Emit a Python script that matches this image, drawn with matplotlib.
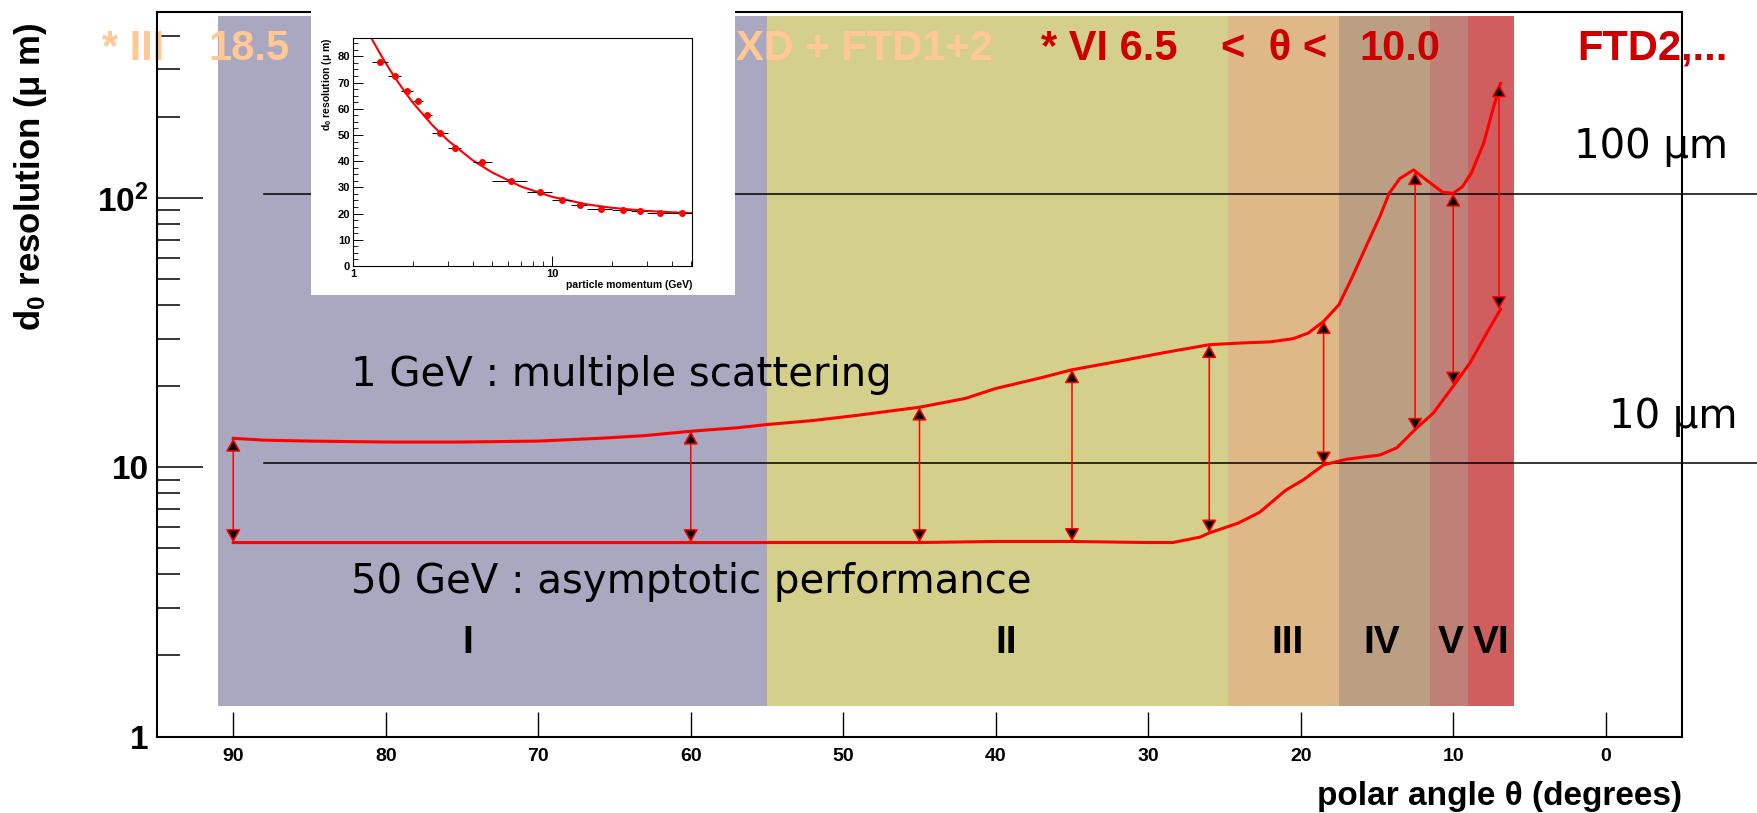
import numpy as np
import matplotlib
matplotlib.use("Agg")
import matplotlib.pyplot as plt
from matplotlib.ticker import FixedLocator, LogLocator, NullFormatter, MultipleLocator

plt.rcParams['font.family'] = ['Liberation Sans', 'DejaVu Sans']
plt.rcParams['mathtext.fontset'] = 'custom'
plt.rcParams['mathtext.rm'] = 'Liberation Sans'
plt.rcParams['mathtext.bf'] = 'Liberation Sans:bold'
plt.rcParams['mathtext.it'] = 'Liberation Sans:italic'

# ---- data ----
band_edges = [91.0, 55.0, 24.8, 17.5, 11.5, 9.0, 6.0]
band_colors = ['#aaa7c0', '#d4cf8a', '#dfb887', '#bc9e82', '#c08078', '#d05e5e']
band_names = ['I', 'II', 'III', 'IV', 'V', 'VI']
band_label_theta = [74.6, 39.3, 20.9, 14.7, 10.2, 7.5]

# 1 GeV (multiple scattering) curve
theta_1gev = [90, 88, 85, 80, 75, 70, 66, 63, 60, 57, 55, 52, 49, 45, 42, 40, 37, 35, 32, 29,
              26, 24, 22, 20.5, 19.5, 18.5, 17.5, 16.7, 15.7, 14.8, 14.2, 13.5, 12.6, 11.8,
              10.7, 10.0, 9.4, 8.8, 8.0, 7.4, 6.9]
d0_1gev = [12.8, 12.6, 12.5, 12.4, 12.4, 12.5, 12.8, 13.1, 13.6, 14.0, 14.4, 14.9, 15.6, 16.7,
           18.0, 19.6, 21.5, 23.0, 24.7, 26.6, 28.5, 28.9, 29.2, 30.0, 31.5, 34.8, 40.1, 49.7,
           66.3, 85.6, 104, 118, 127, 117, 105, 104, 110, 124, 160, 213, 266]

# 50 GeV (asymptotic) curve
theta_50gev = [90, 75, 60, 45, 40, 35, 30, 28.4, 26.6, 26, 24.1, 22.7, 21.0, 19.8, 18.5, 17.0,
               14.8, 13.7, 12.5, 11.3, 10.0, 8.9, 7.8, 6.9]
d0_50gev = [5.25, 5.25, 5.25, 5.25, 5.3, 5.3, 5.25, 5.25, 5.5, 5.7, 6.2, 6.8, 8.2, 9.0, 10.2,
            10.7, 11.1, 11.8, 13.8, 15.9, 20.0, 24.4, 31.5, 38.6]

arrow_theta = [90, 60, 45, 35, 26, 18.5, 12.5, 10, 7]
arrow_hi = [12.8, 13.6, 16.7, 23.0, 28.5, 35.0, 125, 104, 265]
arrow_lo = [5.25, 5.25, 5.25, 5.3, 5.7, 10.2, 13.6, 20.2, 38.5]

ref_levels = [103, 10.4]
ref_labels = ['100 μm', '10 μm']
ref_label_theta = [2.05, -0.24]
ref_label_y = [141, 14.0]

ytick_vals = [1, 10, 100]
ytick_labels = ['1', '10', r'$\mathbf{10^{2}}$']
xtick_vals = [90, 80, 70, 60, 50, 40, 30, 20, 10, 0]

top_texts = ['* III', '18.5', 'XD + FTD1+2', '* VI 6.5', '<  θ <', '10.0', 'FTD2,...']
top_text_x = [102, 208, 736, 1041, 1221, 1359, 1577]
top_text_col = ['#ffc895', '#ffc895', '#ffc895', '#cc0000', '#cc0000', '#cc0000', '#cc0000']

# inset: d0 resolution vs momentum
inset_p = [1.37, 1.62, 1.87, 2.13, 2.36, 2.74, 3.24, 4.47, 6.2, 8.7, 11.2, 13.8, 17.6, 22.6,
           27.6, 35.0, 45.2]
inset_d0 = [77.7, 72.4, 66.7, 63.0, 57.7, 50.9, 45.0, 39.5, 32.6, 28.1, 25.1, 23.2, 21.8,
            21.2, 21.1, 20.4, 20.2]
inset_plo = [1.25, 1.5, 1.75, 2.0, 2.25, 2.5, 3.0, 4.0, 5.0, 7.5, 10, 12.5, 15, 20, 25, 30, 40]
inset_phi = [1.5, 1.75, 2.0, 2.25, 2.5, 3.0, 3.5, 5.0, 7.5, 10, 12.5, 15, 20, 25, 30, 40, 50]
fit_p = [1.25, 1.4, 1.6, 1.8, 2.0, 2.5, 3.0, 4.0, 5.0, 7.0, 10, 15, 20, 30, 40, 50]
fit_d0 = [86.3, 79.7, 72.6, 67.0, 62.3, 53.8, 47.9, 40.3, 35.7, 30.3, 26.4, 23.5, 22.2, 21.0,
          20.5, 20.2]

W, H = 1758, 813


def fx(x):
    return x / W


def fy(y):
    return 1 - y / H


fig = plt.figure(figsize=(W / 100, H / 100), dpi=100)
fig.patch.set_facecolor('white')
ax = fig.add_axes([fx(157), fy(736.5), (1682 - 157) / W, (736.5 - 12) / H])

# bands
for i, c in enumerate(band_colors):
    ax.fill_between([band_edges[i], band_edges[i + 1]], 1.3, 475, color=c, lw=0, zorder=1)
for th, nm in zip(band_label_theta, band_names):
    ax.text(th, 2.04, nm, ha='center', va='baseline', fontsize=28, fontweight='bold', zorder=2)

# reference lines at 100 and 10 um
for lvl, lab, lt, ly in zip(ref_levels, ref_labels, ref_label_theta, ref_label_y):
    ax.plot([88, -12], [lvl, lvl], color='black', lw=1.1, clip_on=False, zorder=3)
    ax.text(lt, ly, lab, family='DejaVu Sans', fontsize=29, ha='left', va='baseline',
            clip_on=False, zorder=3)

ax.plot(theta_1gev, d0_1gev, color='red', lw=2.2, zorder=4)
ax.plot(theta_50gev, d0_50gev, color='red', lw=2.2, zorder=4)

for th, hi, lo in zip(arrow_theta, arrow_hi, arrow_lo):
    ax.annotate('', xy=(th, hi), xytext=(th, lo),
                arrowprops=dict(arrowstyle='<|-|>,head_length=0.8,head_width=0.45',
                                fc='black', ec='red', lw=1.1, shrinkA=0, shrinkB=0),
                zorder=5)

ax.text(82.3, 20.0, '1 GeV : multiple scattering', family='DejaVu Sans', fontsize=29,
        va='baseline', zorder=6)
ax.text(82.3, 3.42, '50 GeV : asymptotic performance', family='DejaVu Sans', fontsize=29,
        va='baseline', zorder=6)

# top labels (partly hidden behind inset)
for s, x, c in zip(top_texts, top_text_x, top_text_col):
    ax.text(fx(x), fy(60), s, transform=fig.transFigure, color=c, fontsize=30,
            fontweight='bold', va='baseline', ha='left', clip_on=False, zorder=2)

ax.set_xlim(95, -5)
ax.set_yscale('log')
ax.set_ylim(1, 490)
ax.yaxis.set_major_locator(FixedLocator(ytick_vals))
ax.set_yticklabels(ytick_labels)
ax.yaxis.set_minor_locator(LogLocator(base=10, subs=np.arange(2, 10), numticks=20))
ax.yaxis.set_minor_formatter(NullFormatter())
ax.set_xticks(xtick_vals)
ax.set_xticklabels([str(v) for v in xtick_vals])
ax.tick_params(axis='y', which='major', direction='in', length=33, width=1.1, labelsize=24, pad=6)
ax.tick_params(axis='y', which='minor', direction='in', length=16.5, width=1.1)
ax.tick_params(axis='x', which='both', direction='in', length=18, width=1.0, labelsize=14, pad=8)
for lbl in ax.get_xticklabels() + ax.get_yticklabels():
    lbl.set_fontweight('bold')
for sp in ax.spines.values():
    sp.set_linewidth(1.5)

fig.text(fx(31), fy(22), r'd$_{\mathbf{0}}$ resolution (μ m)', rotation=90, ha='center', va='top',
         fontsize=25, fontweight='bold')
fig.text(fx(1682), fy(796), 'polar angle θ (degrees)', ha='right', va='center', fontsize=24,
         fontweight='bold')

# inset
bg = fig.add_axes([fx(311), fy(295), (735 - 311) / W, (295 - 8) / H], zorder=5)
bg.set_facecolor('white')
bg.set_xticks([])
bg.set_yticks([])
for sp in bg.spines.values():
    sp.set_visible(False)

ins = fig.add_axes([fx(353), fy(266), (692 - 353) / W, (266 - 38) / H], zorder=6)
ins.set_xscale('log')
ins.set_xlim(1, 50.5)
ins.set_ylim(0, 87)
ins.plot(fit_p, fit_d0, color='red', lw=1.5, zorder=2)
p = np.array(inset_p)
ins.errorbar(p, inset_d0, xerr=[p - np.array(inset_plo), np.array(inset_phi) - p], fmt='o',
             color='red', ms=4, ecolor='black', elinewidth=0.7, capsize=0, zorder=3)
ins.yaxis.set_major_locator(MultipleLocator(10))
ins.yaxis.set_minor_locator(MultipleLocator(2.5))
ins.set_xticks([1, 10])
ins.set_xticklabels(['1', '10'])
ins.xaxis.set_minor_locator(LogLocator(base=10, subs=np.arange(2, 10), numticks=10))
ins.xaxis.set_minor_formatter(NullFormatter())
ins.tick_params(which='major', direction='in', length=7, width=0.7, labelsize=8, pad=2)
ins.tick_params(which='minor', direction='in', length=3.5, width=0.6)
for lbl in ins.get_xticklabels() + ins.get_yticklabels():
    lbl.set_fontweight('bold')
for sp in ins.spines.values():
    sp.set_linewidth(0.8)
ins.set_xlabel('particle momentum (GeV)', fontsize=7.5, fontweight='bold', loc='right', labelpad=1)
ins.set_ylabel(r'd$_{\mathbf{0}}$ resolution (μ m)', fontsize=7.5, fontweight='bold', loc='top',
               labelpad=3)

fig.savefig('out.png', dpi=100)
